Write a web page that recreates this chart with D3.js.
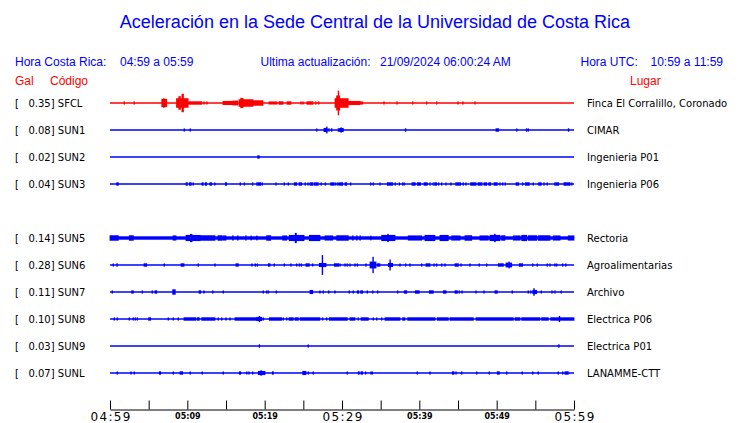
<!DOCTYPE html>
<html><head><meta charset="utf-8">
<script src="https://cdn.jsdelivr.net/npm/d3@7"></script>
<style>
body{margin:0;background:#fff;}
svg{display:block;}
text{white-space:pre;}
</style></head><body>
<svg id="c" width="740" height="423"></svg>
<script>
// ---------- data ----------
const titleText = "Aceleración en la Sede Central de la Universidad de Costa Rica";
const localRange = "04:59 a 05:59";
const utcRange = "10:59 a 11:59";
const updatedText = "21/09/2024 06:00:24 AM";
const slots = ["SFCL","SUN1","SUN2","SUN3","SUN4","SUN5","SUN6","SUN7","SUN8","SUN9","SUNL"];
const stations = ["SFCL","SUN1","SUN2","SUN3","SUN5","SUN6","SUN7","SUN8","SUN9","SUNL"];
const peakGal = [0.35,0.08,0.02,0.04,0.14,0.28,0.11,0.10,0.03,0.07];
const places = ["Finca El Corralillo, Coronado","CIMAR","Ingenieria P01","Ingenieria P06","Rectoria","Agroalimentarias","Archivo","Electrica P06","Electrica P01","LANAMME-CTT"];
const floorGal = [0,0,0,0,0.05,0,0,0,0,0];
const blipGal = 0.045;
const tickMinutes = [0,5,10,15,20,25,30,35,40,45,50,55,60];
const labelMinutes = [0,10,20,30,40,50,60];
const tickLabels = ["04:59","05:09","05:19","05:29","05:39","05:49","05:59"];
const majorMinutes = [0,30,60];

// bursts: [start minute, end minute, half amplitude in Gal]
const sfclBursts = [[6.69,7.33,0.12],[6.9,7.0,0.14],[8.6,10.1,0.14],[8.9,9.1,0.2],[9.3,9.5,0.27],[10.12,11.86,0.05],[14.61,15.9,0.06],[15.9,16.55,0.07],[16.68,18.49,0.11],[16.9,17.2,0.15],[18.49,19.78,0.08],[20.56,21.59,0.045],[21.85,22.37,0.05],[22.89,23.4,0.05],[25.47,26.25,0.05],[29.1,30.8,0.14],[29.3,29.7,0.22],[29.5,29.56,0.36],[30.78,32.33,0.06],[32.33,32.7,0.045]];
const sfclBlips = [1.85,3.14,12.15,12.54,24.7,24.96,26.6,27.0,35.43,37.11,39.14,40.95,42.24,45.0,45.64,47.2];

const sun1Bursts = [[27.67,28.06,0.06],[28.0,28.05,0.1],[28.28,28.32,0.05],[28.62,28.66,0.05],[29.48,29.74,0.05],[29.74,30.17,0.06],[29.85,29.9,0.075],[38.18,38.22,0.05],[49.91,50.26,0.05],[53.83,53.87,0.05],[59.26,59.3,0.05]];
const sun1Blips = [9.61,10.38,26.73,52.59,54.09];

const sun2Bursts = [[19.1,19.3,0.05]];
const sun2Blips = [];

const sun3Bursts = [[0.87,1.07,0.05],[9.83,10.0,0.05],[10.25,10.51,0.05],[11.9,12.06,0.05],[12.32,12.5,0.05],[12.93,13.15,0.05],[14.91,15.09,0.05],[18.97,19.49,0.05],[23.83,24.14,0.05],[24.44,24.79,0.05],[25.86,26.21,0.05],[26.38,26.93,0.05],[28.54,28.96,0.05],[29.57,30.09,0.05],[30.39,30.61,0.05],[35.86,36.55,0.05],[39.05,39.48,0.05],[39.74,40.17,0.05],[40.6,41.03,0.05],[41.99,42.24,0.05],[44.7,45.35,0.05],[46.64,47.33,0.05],[47.58,48.1,0.05],[48.36,48.71,0.05],[48.97,49.23,0.05],[49.65,50.08,0.05],[52.5,52.85,0.05],[53.7,54.22,0.05],[55.43,55.77,0.05],[57.5,58.02,0.05],[58.7,59.48,0.05]];
const sun3Blips = [10.77,13.54,16.85,17.37,18.45,19.69,21.47,22.54,23.06,25.25,25.6,27.32,27.84,29.13,29.39,31.12,33.71,34.05,34.91,36.89,37.41,37.85,38.05,41.38,41.8,42.5,42.89,43.45,44.09,45.68,46.03,50.43,50.78,51.11,53.36,54.73,56.12,56.54,59.7];

const sun5Bursts = [[0,1.07,0.08],[2.5,3.01,0.08],[8.15,8.53,0.075],[9.83,11.64,0.09],[10.4,10.6,0.12],[11.64,13.58,0.08],[13.96,14.44,0.08],[14.57,15.0,0.075],[15.85,15.9,0.075],[16.49,16.54,0.075],[17.53,17.58,0.075],[18.21,18.26,0.07],[18.95,19.0,0.07],[20.26,20.78,0.08],[22.33,22.85,0.075],[23.18,25.09,0.09],[23.95,24.1,0.15],[25.77,27.15,0.09],[27.8,28.8,0.075],[29.31,30.81,0.08],[31.36,31.41,0.075],[31.88,31.93,0.075],[32.31,32.36,0.075],[33.69,33.74,0.07],[35.13,36.85,0.09],[35.9,36.0,0.12],[38.57,40.31,0.075],[40.73,42.02,0.09],[42.67,43.74,0.09],[44.18,45.26,0.075],[45.9,46.77,0.08],[47.84,48.91,0.075],[49.14,50.43,0.09],[49.72,49.82,0.12],[50.65,51.07,0.08],[52.15,53.02,0.075],[53.24,53.88,0.09],[54.09,55.17,0.08],[55.38,56.89,0.08],[57.32,58.19,0.075],[59.26,60,0.075]];
const sun5Blips = [];

const sun6Bursts = [[0.87,0.95,0.05],[4.4,4.75,0.05],[9.18,9.57,0.05],[16.29,16.59,0.05],[20.47,20.69,0.05],[25.34,25.77,0.05],[27.06,27.93,0.06],[27.43,27.48,0.29],[29.0,29.57,0.05],[33.62,34.4,0.1],[33.98,34.04,0.24],[34.56,34.91,0.05],[35.99,36.55,0.06],[36.18,36.23,0.16],[40.86,41.38,0.05],[44.61,45.04,0.05],[50.21,50.86,0.05],[51.2,51.94,0.07],[51.57,51.62,0.1],[52.92,53.36,0.05]];
const sun6Blips = [0.43,7.02,11.42,13.58,18.36,18.79,19.05,21.24,22.54,23.4,24.14,24.48,24.74,26.21,29.74,30.39,30.68,31.03,31.68,31.98,33.1,37.5,38.23,38.79,40.3,41.9,42.24,42.89,43.32,45.39,46.55,47.75,48.71,54.66,55.25,56.54,56.89,57.54,57.76,58.54,58.93];

const sun7Bursts = [[2.81,3.01,0.05],[5.82,6.04,0.05],[8.11,8.44,0.08],[11.51,11.73,0.05],[25.86,26.21,0.06],[31.98,32.15,0.05],[32.42,32.67,0.05],[38.05,38.37,0.05],[39.48,39.99,0.05],[41.29,41.8,0.05],[43.1,43.45,0.05],[44.61,44.91,0.05],[49.78,50.08,0.05],[54.66,55.17,0.06],[54.79,54.85,0.11]];
const sun7Blips = [0.3,4.18,5.47,12.15,13.28,14.65,19.82,20.26,20.47,21.5,27.15,27.58,28.28,29.09,30.94,31.46,33.27,33.97,34.61,37.2,45.17,45.52,47.33,48.36,52.02,54.09,54.4,55.77,57.15,57.54,58.36];

const sun8Bursts = [[5.0,5.26,0.05],[9.57,11.12,0.05],[11.29,11.55,0.05],[11.86,13.58,0.05],[16.16,18.97,0.05],[18.97,19.62,0.06],[19.28,19.33,0.09],[20.6,22.2,0.05],[23.15,23.7,0.05],[23.92,24.35,0.05],[24.57,27.15,0.05],[28.36,30.68,0.05],[31.03,31.68,0.05],[32.46,33.4,0.05],[35.56,37.5,0.05],[37.85,38.14,0.05],[38.49,42.02,0.05],[42.32,43.74,0.05],[43.96,46.98,0.05],[47.33,52.15,0.05],[52.37,53.02,0.05],[53.24,55.6,0.05],[55.82,56.67,0.05],[56.99,60,0.05],[58.08,58.13,0.09]];
const sun8Blips = [0.56,0.94,2.5,3.01,3.27,3.53,7.54,8.19,8.83,14.0,14.44,15.0,15.52,19.82,22.41,22.85,27.5,28.02,32.1,34.05,34.49,35.13];

const sun9Bursts = [[19.28,19.34,0.05],[58.0,58.05,0.05]];
const sun9Blips = [25.64];

const sunlBursts = [[6.37,6.56,0.05],[9.05,9.4,0.05],[16.72,16.9,0.05],[19.18,20.04,0.06],[19.5,19.56,0.08],[20.99,21.12,0.05],[24.92,25.34,0.06],[32.1,32.23,0.05],[32.46,32.67,0.05],[44.26,44.48,0.05],[50.08,50.34,0.05],[58.83,59.26,0.05]];
const sunlBlips = [0.94,2.72,3.14,8.19,10.38,11.93,14.65,17.68,17.97,18.45,25.64,26.29,30.68,33.06,33.75,33.92,39.74,41.38,44.74,45.48,47.42,49.05,51.3,53.31,54.66,55.38,57.97,58.54];

const allBursts = [sfclBursts,sun1Bursts,sun2Bursts,sun3Bursts,sun5Bursts,sun6Bursts,sun7Bursts,sun8Bursts,sun9Bursts,sunlBursts];
const allBlips = [sfclBlips,sun1Blips,sun2Blips,sun3Blips,sun5Blips,sun6Blips,sun7Blips,sun8Blips,sun9Blips,sunlBlips];

// ---------- drawing ----------
const BLUE = "#0000ff", RED = "#ff0000";
const svg = d3.select("#c");
const x = d3.scaleLinear().domain([0,60]).range([110,574]);
const y = d3.scalePoint().domain(slots).range([103,373]);
const amp = d3.scaleLinear().domain([0,0.36]).range([0,12.3]);
const SANS = "'Liberation Sans', Arial, Helvetica, sans-serif";
const DV = "'DejaVu Sans', sans-serif";

svg.append("text").attr("x",375).attr("y",28).attr("text-anchor","middle")
  .attr("font-family",SANS).attr("font-size",18).attr("fill",BLUE).text(titleText);

const hdr = [
  ["Hora Costa Rica:",15,BLUE],[localRange,120,BLUE],
  ["Ultima actualización:",260.5,BLUE],[updatedText,380,BLUE],
  ["Hora UTC:",580.5,BLUE],[utcRange,650.5,BLUE]
];
svg.selectAll("text.hdr").data(hdr).enter().append("text").attr("class","hdr")
  .attr("x",d=>d[1]).attr("y",65.5).attr("font-family",SANS).attr("font-size",12)
  .attr("fill",d=>d[2]).text(d=>d[0]);
const hdr2 = [["Gal",15],["Código",50],["Lugar",630]];
svg.selectAll("text.hdr2").data(hdr2).enter().append("text").attr("class","hdr2")
  .attr("x",d=>d[1]).attr("y",85).attr("font-family",SANS).attr("font-size",12)
  .attr("fill",RED).text(d=>d[0]);

stations.forEach((code,i)=>{
  const yc = y(code);
  const col = code === "SFCL" ? RED : BLUE;
  const g = svg.append("g");
  svg.append("text").attr("x",15).attr("y",yc).attr("dy","0.36em")
    .attr("font-family",DV).attr("font-size",10).attr("fill","#000")
    .text("[   " + peakGal[i].toFixed(2) + "] " + code);
  svg.append("text").attr("x",587).attr("y",yc).attr("dy","0.36em")
    .attr("font-family",DV).attr("font-size",10).attr("fill","#000")
    .text(places[i]);
  g.append("line").attr("x1",x(0)).attr("x2",x(60)).attr("y1",yc).attr("y2",yc)
    .attr("stroke",col).attr("stroke-width",1.4);
  if (floorGal[i] > 0) {
    g.append("rect").attr("x",x(0)).attr("width",x(60)-x(0))
      .attr("y",yc-amp(floorGal[i])).attr("height",2*amp(floorGal[i])).attr("fill",col);
  }
  g.selectAll("rect.b").data(allBursts[i]).enter().append("rect").attr("class","b")
    .attr("x",d=>x(d[0])-0.4)
    .attr("width",d=>Math.max(x(d[1])-x(d[0])+0.8,1.4))
    .attr("y",d=>yc-amp(d[2])).attr("height",d=>2*amp(d[2])).attr("fill",col);
  g.selectAll("rect.p").data(allBlips[i]).enter().append("rect").attr("class","p")
    .attr("x",d=>x(d)-0.7).attr("width",1.4)
    .attr("y",yc-amp(blipGal)).attr("height",2*amp(blipGal)).attr("fill",col);
});

// axis
const axis = d3.axisBottom(x).tickValues(tickMinutes).tickSizeInner(-9).tickSizeOuter(0)
  .tickFormat(m => { const k = labelMinutes.indexOf(m); return k >= 0 ? tickLabels[k] : ""; });
const ag = svg.append("g").attr("transform","translate(0,409.5)").call(axis);
ag.select(".domain").attr("stroke","#000").attr("stroke-width",1);
ag.selectAll(".tick line").attr("stroke","#000").attr("stroke-width",1);
ag.selectAll(".tick text").attr("fill","#000").attr("dy",null)
  .each(function(m){
    const t = d3.select(this);
    if (majorMinutes.includes(m)) {
      t.attr("y",11.5).attr("font-family",DV).attr("font-size",12).attr("letter-spacing","1.3px")
       .attr("dx","0.6px");
    } else {
      t.attr("y",9.5).attr("font-family",DV).attr("font-size",8).attr("font-weight",600);
    }
  });
ag.attr("font-family",null).attr("font-size",null);
</script>
</body></html>
